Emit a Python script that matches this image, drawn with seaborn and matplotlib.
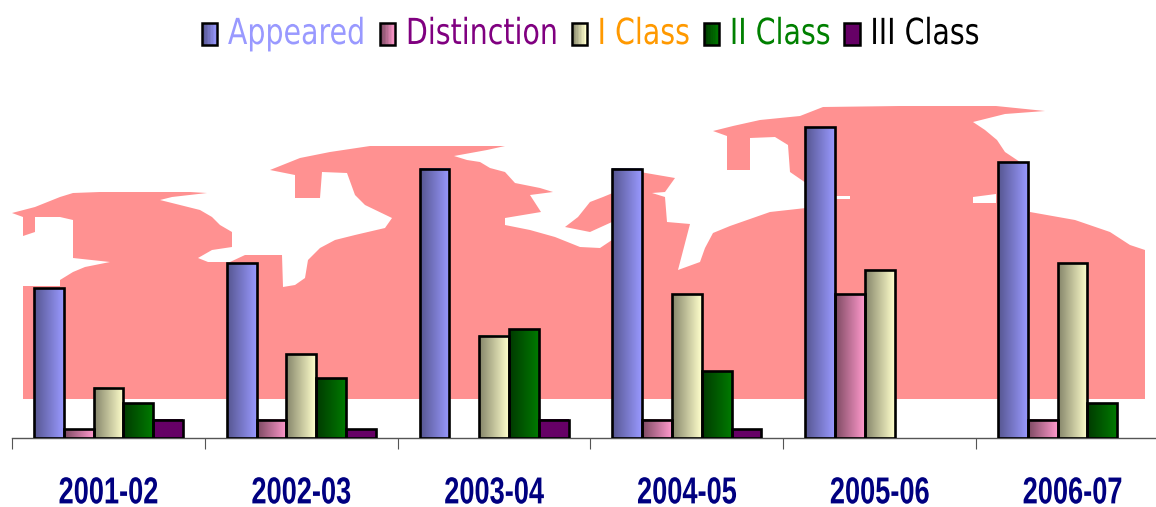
import numpy as np
import pandas as pd
import matplotlib
matplotlib.use("Agg")
import matplotlib.pyplot as plt
import seaborn as sns
from matplotlib.colors import LinearSegmentedColormap, to_rgb
from matplotlib.legend_handler import HandlerBase
from matplotlib.patches import Patch, Polygon, Rectangle
from matplotlib.patheffects import AbstractPathEffect
from matplotlib.transforms import Affine2D

years = ["2001-02", "2002-03", "2003-04", "2004-05", "2005-06", "2006-07"]
appeared = [17.3, 20.2, 31.1, 31.1, 35.9, 31.9]
distinction = [1, 2.1, 0, 2.1, 16.6, 2.1]
class_1 = [5.8, 9.7, 11.8, 16.6, 19.4, 20.2]
class_2 = [4, 6.9, 12.6, 7.7, 0, 4]
class_3 = [2.1, 1, 2.1, 1, 0, 0]
series_names = ["Appeared", "Distinction", "I Class", "II Class", "III Class"]
series_values = [appeared, distinction, class_1, class_2, class_3]

dark_colors = ["#565690", "#7d4a62", "#85856a", "#003a00", "#660066"]
light_colors = ["#9999ff", "#ff99cc", "#ffffcc", "#007a00", "#660066"]
text_colors = ["#9999ff", "#800080", "#ff9900", "#008000", "#000000"]

# decorative world-map backdrop, in image pixels
map_outline = [
    (23, 399), (23, 286), (60, 286), (60, 280), (73, 272), (85, 267), (110, 262), (73, 258), (73, 220),
    (60, 217), (35, 217), (35, 232), (23, 236), (23, 217), (12, 213), (35, 207), (50, 201), (60, 197),
    (73, 193), (100, 192), (190, 192), (207, 193), (172, 197), (160, 200), (172, 203), (200, 210),
    (212, 217), (220, 225), (232, 232), (232, 247), (212, 250), (198, 258), (208, 262), (230, 262),
    (245, 255), (282, 255), (283, 287), (295, 285), (305, 278), (308, 260), (320, 248), (335, 240),
    (355, 235), (385, 228), (392, 218), (365, 205), (355, 195), (347, 173), (322, 172), (320, 198),
    (295, 198), (295, 175), (270, 170), (300, 158), (330, 152), (370, 146), (505, 146), (487, 150),
    (454, 156), (467, 160), (480, 162), (490, 168), (505, 172), (515, 183), (540, 188), (553, 192),
    (530, 195), (541, 212), (505, 218), (505, 225), (530, 230), (555, 237), (580, 247), (600, 248),
    (612, 240), (612, 222), (590, 232), (565, 227), (578, 217), (590, 202), (603, 197), (620, 190),
    (640, 172), (675, 178), (665, 192), (652, 193), (665, 197), (667, 222), (690, 224), (678, 270),
    (700, 262), (705, 248), (713, 233), (730, 226), (770, 212), (806, 208), (806, 183), (790, 172),
    (788, 145), (775, 137), (750, 138), (750, 170), (727, 170), (727, 136), (713, 131), (733, 126),
    (760, 120), (800, 116), (823, 107), (900, 106), (996, 106), (1045, 111), (1005, 114), (973, 122),
    (985, 130), (997, 140), (1005, 152), (1029, 168), (1030, 212), (1075, 220), (1110, 232),
    (1130, 245), (1145, 250), (1145, 399),
]
map_holes = [[(973, 197), (996, 194), (996, 203), (973, 203)], [(836, 196), (850, 196), (850, 199), (836, 199)]]


class Stretch(AbstractPathEffect):
    """Draws a text narrower/taller, as the source's stretched lettering."""

    def __init__(self, sx=1.0, sy=1.0, anchor_top=False):
        super().__init__()
        self.sx, self.sy, self.anchor_top = sx, sy, anchor_top

    def draw_path(self, renderer, gc, tpath, affine, rgbFace=None):
        box = tpath.transformed(affine).get_extents()
        cx = 0.5 * (box.x0 + box.x1)
        cy = box.y1 if self.anchor_top else affine.transform((0, 0))[1]
        extra = Affine2D().translate(-cx, -cy).scale(self.sx, self.sy).translate(cx, cy)
        renderer.draw_path(gc, tpath, affine + extra, rgbFace)


sns.set_theme(style="white")
plt.rcParams["font.family"] = ["DejaVu Sans"]

W, H = 1156, 507
fig = plt.figure(figsize=(W / 100, H / 100), dpi=100, facecolor="white")

bg = fig.add_axes([0, 0, 1, 1], zorder=0)
bg.set_xlim(0, W)
bg.set_ylim(H, 0)
bg.axis("off")
bg.add_patch(Polygon(map_outline, closed=True, facecolor="#ff9191", edgecolor="none"))
for hole in map_holes:
    bg.add_patch(Polygon(hole, closed=True, facecolor="white", edgecolor="none"))

# axes rectangle in pixels: x 12..1169, y 60..438 (runs past the right edge as in the source)
ax = fig.add_axes([12 / W, (H - 438) / H, (1169 - 12) / W, (438 - 60) / H], zorder=1)
ax.patch.set_alpha(0)

df = pd.DataFrame({
    "year": np.repeat(years, len(series_names)),
    "series": series_names * len(years),
    "value": np.array(series_values).T.ravel(),
})
sns.barplot(data=df, x="year", y="value", hue="series", hue_order=series_names, order=years,
            width=0.773, gap=0, dodge=True, legend=False, ax=ax, errorbar=None, saturation=1)


def ramp(i):
    return LinearSegmentedColormap.from_list("r", [dark_colors[i], light_colors[i]])


grad = np.linspace(0, 1, 64)[None, :]
for i, container in enumerate(ax.containers):
    for bar in container:
        h = bar.get_height()
        if h <= 0:
            bar.set_visible(False)
            continue
        x0 = bar.get_x()
        ax.imshow(grad, extent=(x0, x0 + bar.get_width(), 0, h), cmap=ramp(i),
                  aspect="auto", zorder=2, interpolation="bilinear")
        bar.set_facecolor("none")
        bar.set_edgecolor("black")
        bar.set_linewidth(1.9)
        bar.set_zorder(3)
ax.set_xlim(-0.5, 5.5)
ax.set_ylim(0, 378 / 8.65)

for s in ("top", "left", "right"):
    ax.spines[s].set_visible(False)
ax.spines["bottom"].set_color("#555555")
ax.spines["bottom"].set_linewidth(1)
ax.set_xlabel("")
ax.set_ylabel("")
ax.set_yticks([])
ax.set_xticks(np.arange(-0.5, 6), minor=True)
ax.tick_params(axis="x", which="minor", length=8, width=0.8, color="#555555", bottom=True)
ax.tick_params(axis="x", which="major", length=0, pad=27)
for lab in ax.get_xticklabels():
    lab.set_family(["Liberation Sans"])
    lab.set_fontweight("bold")
    lab.set_fontsize(22)
    lab.set_color("#000080")
    lab.set_path_effects([Stretch(sx=0.89, sy=1.23, anchor_top=True)])


class GradientHandler(HandlerBase):
    def __init__(self, index):
        super().__init__()
        self.index = index

    def create_artists(self, legend, orig, xd, yd, width, height, fontsize, trans):
        n = 10
        lo, hi = np.array(to_rgb(dark_colors[self.index])), np.array(to_rgb(light_colors[self.index]))
        arts = []
        for k in range(n):
            c = lo + (hi - lo) * k / (n - 1)
            arts.append(Rectangle((-xd + width * k / n, -yd), width / n, height, facecolor=c,
                                  edgecolor="none", transform=trans))
        arts.append(Rectangle((-xd, -yd), width, height, facecolor="none", edgecolor="black",
                              linewidth=1.8, transform=trans))
        return arts


handles = [Patch(label=n) for n in series_names]
leg = fig.legend(handles=handles, labels=series_names, loc="upper left",
                 bbox_to_anchor=(202 / W, 1 - 22 / H), ncol=5, frameon=False, fontsize=20.5,
                 labelcolor=text_colors, handlelength=0.53, handleheight=0.82,
                 handletextpad=0.38, columnspacing=0.5, borderpad=0, borderaxespad=0,
                 handler_map={h: GradientHandler(i) for i, h in enumerate(handles)})
for t in leg.get_texts():
    # stretch about the baseline, left-anchored horizontal position is unchanged
    t.set_path_effects([Stretch(sx=1.0, sy=1.26)])

fig.savefig("out.png", dpi=100)
